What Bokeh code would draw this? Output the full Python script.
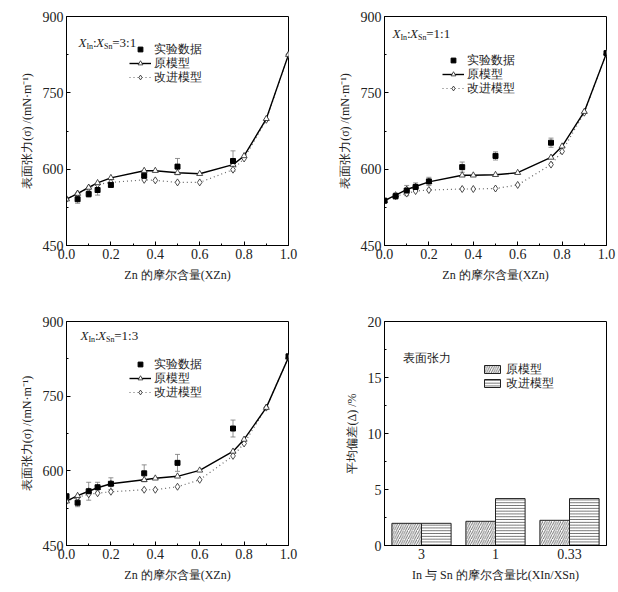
from bokeh.plotting import figure
from bokeh.models import (Range1d, Whisker, ColumnDataSource, Legend, LegendItem, Label,
                          FactorRange, TeeHead, FixedTicker, PrintfTickFormatter)
from bokeh.layouts import column, row
from bokeh.embed import file_html
from bokeh.resources import INLINE
from bokeh.transform import dodge

FONT = "Liberation Serif"

# ---------------- data ----------------
x_model = [0, 0.05, 0.1, 0.14, 0.2, 0.35, 0.4, 0.5, 0.6, 0.75, 0.8, 0.9, 1.0]

# In:Sn = 3:1
x_exp_31 = [0.05, 0.1, 0.14, 0.2, 0.35, 0.5, 0.75]
y_exp_31 = [541, 551, 559, 569, 587, 605, 616]
err_31 = [8, 6, 10, 3, 3, 16, 20]
orig_31 = [541, 552, 564, 573, 583, 597, 597, 593, 591, 609, 626, 699, 825]
impr_31 = [541, 552, 563, 570, 574, 579, 578, 574, 574, 599, 621, 697, 825]

# In:Sn = 1:1
x_exp_11 = [0, 0.05, 0.1, 0.14, 0.2, 0.35, 0.5, 0.75, 1.0]
y_exp_11 = [538, 547, 558, 565, 576, 604, 626, 652, 828]
err_11 = [3, 6, 10, 8, 8, 10, 8, 9, 3]
orig_11 = [538, 549, 560, 566, 575, 588, 588, 589, 593, 623, 645, 713, 828]
impr_11 = [538, 547, 552, 557, 559, 561, 561, 562, 569, 609, 635, 711, 828]

# In:Sn = 1:3
x_exp_13 = [0, 0.05, 0.1, 0.14, 0.2, 0.35, 0.5, 0.75, 1.0]
y_exp_13 = [549, 536, 559, 567, 574, 595, 616, 685, 830]
err_13 = [3, 8, 18, 10, 12, 17, 17, 17, 3]
orig_13 = [539, 550, 559, 566, 574, 582, 585, 589, 601, 639, 663, 727, 828]
impr_13 = [539, 547, 553, 555, 558, 562, 562, 568, 582, 630, 655, 727, 828]

# mean deviation
ratios = ["3", "1", "0.33"]
dev_orig = [1.98, 2.16, 2.25]
dev_impr = [1.98, 4.19, 4.19]

x_ticks = [0, 0.2, 0.4, 0.6, 0.8, 1.0]
x_minor = [0.1, 0.3, 0.5, 0.7, 0.9]
y_ticks = [450, 600, 750, 900]
y_minor = [525, 675, 825]
bar_ticks = [0, 5, 10, 15, 20]
bar_minor = [2.5, 7.5, 12.5, 17.5]

ROW_H = 20  # legend row box height (px)


def style_axes(p):
    p.grid.visible = False
    p.outline_line_color = "black"
    p.outline_line_width = 1
    for ax in (p.xaxis, p.yaxis):
        ax.axis_line_color = "black"
        ax.major_tick_in = 4
        ax.major_tick_out = 0
        ax.minor_tick_in = 2
        ax.minor_tick_out = 0
        ax.major_label_text_font = FONT
        ax.major_label_text_font_size = "14px"
        ax.major_label_text_color = "#222"
        ax.axis_label_text_font = FONT
        ax.axis_label_text_font_size = "12px"
        ax.axis_label_text_font_style = "normal"
        ax.axis_label_text_color = "#222"
        ax.major_label_standoff = 3
        ax.axis_label_standoff = 6


def legend_row(p, label, renderers, gx, yc_from_bottom, gw=22, gh=12, standoff=3):
    leg = Legend(items=[LegendItem(label=label, renderers=renderers)],
                 location=(gx, yc_from_bottom - ROW_H / 2), border_line_color=None,
                 background_fill_alpha=0, glyph_width=gw, glyph_height=gh,
                 label_height=ROW_H, spacing=0, padding=0, margin=0, label_standoff=standoff,
                 label_text_font=FONT, label_text_font_size="12px", label_text_color="#222")
    p.add_layout(leg)


def ratio_label(p, x, y, a, b):
    fs = 13
    parts = [("X", fs, "italic", 0, 0), ("In", 8, "normal", 7.9, -4), (":", fs, "normal", 14.4, 0),
             ("X", fs, "italic", 17.6, 0), ("Sn", 8, "normal", 25.5, -4),
             ("=%s:%s" % (a, b), fs, "normal", 33.7, 0)]
    for txt, size, style, dx, dy in parts:
        p.add_layout(Label(x=x, y=y, x_offset=dx, y_offset=dy, text=txt, text_font=FONT,
                           text_font_size="%dpx" % size, text_font_style=style,
                           text_color="#222", text_baseline="middle"))


def tension_panel(w, h, bl, br, bt, bb, xe, ye, ee, yo, yi, a, b, gx, rows, lab_xy):
    p = figure(width=w, height=h, x_range=Range1d(0, 1), y_range=Range1d(450, 900),
               output_backend="svg", toolbar_location=None,
               min_border_left=bl, min_border_right=br, min_border_top=bt, min_border_bottom=bb)
    style_axes(p)
    p.xaxis.ticker = FixedTicker(ticks=x_ticks, minor_ticks=x_minor)
    p.xaxis.formatter = PrintfTickFormatter(format="%.1f")
    p.yaxis.ticker = FixedTicker(ticks=y_ticks, minor_ticks=y_minor)
    p.xaxis.axis_label = "Zn 的摩尔含量(XZn)"
    p.yaxis.axis_label = "表面张力(σ) /(mN·m⁻¹)"

    lo = [v - e for v, e in zip(ye, ee)]
    hi = [v + e for v, e in zip(ye, ee)]
    src = ColumnDataSource(dict(x=xe, lo=lo, hi=hi))
    p.add_layout(Whisker(base="x", lower="lo", upper="hi", source=src, line_color="#777",
                         line_width=0.8,
                         upper_head=TeeHead(size=5, line_color="#777", line_width=0.8),
                         lower_head=TeeHead(size=5, line_color="#777", line_width=0.8)))

    l_i = p.line(x_model, yi, line_color="#666", line_dash="1 3", line_width=1.2)
    s_i = p.scatter(x_model, yi, marker="diamond", size=7, fill_color="white",
                    line_color="#222", line_width=0.8)
    l_o = p.line(x_model, yo, line_color="black", line_width=1.4)
    s_o = p.scatter(x_model, yo, marker="triangle", size=6, fill_color="white",
                    line_color="#222", line_width=0.8)
    s_e = p.scatter(xe, ye, marker="square", size=5, fill_color="black", line_color="black")

    legend_row(p, "实验数据", [s_e], gx, rows[0])
    legend_row(p, "原模型", [l_o, s_o], gx, rows[1])
    legend_row(p, "改进模型", [l_i, s_i], gx, rows[2])
    ratio_label(p, lab_xy[0], lab_xy[1], a, b)
    return p


# frame heights: top row 229 px, bottom row 224 px
p1 = tension_panel(309, 296, 66, 21, 16, 51, x_exp_31, y_exp_31, err_31, orig_31, impr_31,
                   "3", "1", 63, (196, 182, 168), (0.054, 849))
p2 = tension_panel(308, 296, 75, 11, 16, 51, x_exp_11, y_exp_11, err_11, orig_11, impr_11,
                   "1", "1", 58, (185, 171, 157), (0.036, 867))
p3 = tension_panel(309, 295, 66, 21, 25, 46, x_exp_13, y_exp_13, err_13, orig_13, impr_13,
                   "1", "3", 63, (181, 167, 153), (0.063, 872))

# ---------------- bar panel ----------------
bsrc = ColumnDataSource(dict(r=ratios, o=dev_orig, i=dev_impr))
p4 = figure(width=308, height=295, x_range=FactorRange(*ratios), y_range=Range1d(0, 20),
            output_backend="svg", toolbar_location=None,
            min_border_left=75, min_border_right=11, min_border_top=25, min_border_bottom=46)
style_axes(p4)
p4.yaxis.ticker = FixedTicker(ticks=bar_ticks, minor_ticks=bar_minor)
p4.xaxis.major_tick_line_color = None
p4.xaxis.axis_label = "In 与 Sn 的摩尔含量比(XIn/XSn)"
p4.yaxis.axis_label = "平均偏差(Δ) /%"
b_o = p4.vbar(x=dodge("r", -0.2, range=p4.x_range), top="o", width=0.4, source=bsrc,
              fill_color="white", line_color="#222", line_width=1,
              hatch_pattern="/", hatch_color="#333", hatch_scale=4.5, hatch_weight=0.7)
b_i = p4.vbar(x=dodge("r", 0.2, range=p4.x_range), top="i", width=0.4, source=bsrc,
              fill_color="white", line_color="#222", line_width=1,
              hatch_pattern="-", hatch_color="#333", hatch_scale=2.8, hatch_weight=0.7)
legend_row(p4, "原模型", [b_o], 98, 176, gw=20, gh=10, standoff=4)
legend_row(p4, "改进模型", [b_i], 98, 162, gw=20, gh=10, standoff=4)
p4.add_layout(Label(x=18, y=188, x_units="screen", y_units="screen", text="表面张力",
                    text_font=FONT, text_font_size="12px", text_color="#222",
                    text_baseline="middle"))

layout = column(row(p1, p2), row(p3, p4))
open("out.html", "w").write(file_html(layout, INLINE))
